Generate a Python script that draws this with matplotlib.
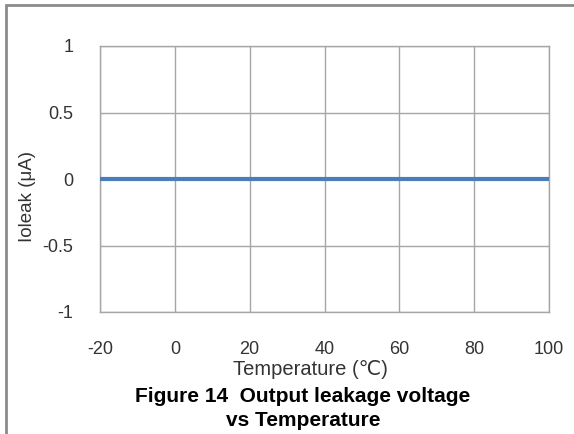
import matplotlib
matplotlib.use('Agg')
from matplotlib import pyplot as plt
from matplotlib.patches import Rectangle

# data
temperature = [-20, 0, 20, 40, 60, 80, 100]
ioleak = [0, 0, 0, 0, 0, 0, 0]
x_ticks = [-20, 0, 20, 40, 60, 80, 100]
y_ticks = [-1, -0.5, 0, 0.5, 1]
y_tick_labels = ['-1', '-0.5', '0', '0.5', '1']

W, H = 574, 434
plt.rcParams['font.family'] = ['Liberation Sans', 'DejaVu Sans', 'Noto Sans CJK JP']
fig = plt.figure(figsize=(W / 100, H / 100), dpi=100)

# plot area in pixels: x 100..549, y 46..312
ax = fig.add_axes([100 / W, 1 - 312 / H, 449 / W, 266 / H])
ax.plot(temperature, ioleak, color='#4a7ebb', linewidth=3, solid_capstyle='butt', zorder=3)

ax.set_xlim(-20, 100)
ax.set_ylim(-1, 1)
ax.set_xticks(x_ticks)
ax.set_xticklabels([str(t) for t in x_ticks])
ax.set_yticks(y_ticks)
ax.set_yticklabels(y_tick_labels)
ax.grid(True, color='#a6a6a6', linewidth=1)
ax.tick_params(length=0, labelsize=13, colors='#333333')
ax.tick_params(axis='x', pad=21)
ax.tick_params(axis='y', pad=19)
for s in ax.spines.values():
    s.set_color('#a6a6a6')
    s.set_linewidth(1)

# axis labels
fig.text(28 / W, 1 - 197 / H, 'Ioleak (μA)', rotation=90, ha='center', va='center',
         fontsize=13.5, color='#333333')
fig.text(310 / W, 1 - 375 / H, 'Temperature (℃)', ha='center', va='baseline',
         fontsize=14.5, color='#333333')

# caption
fig.text(303 / W, 1 - 402 / H, 'Figure 14  Output leakage voltage', ha='center', va='baseline',
         fontsize=15, fontweight='bold')
fig.text(303 / W, 1 - 426 / H, 'vs Temperature', ha='center', va='baseline',
         fontsize=15, fontweight='bold')

# outer frame, cut off on the right and bottom
fig.patches.append(Rectangle((6 / W, -0.1), 1.2, 1.1 - 5 / H, transform=fig.transFigure,
                             fill=False, edgecolor='#8c8c8c', linewidth=2))

fig.savefig('out.png', dpi=100)
